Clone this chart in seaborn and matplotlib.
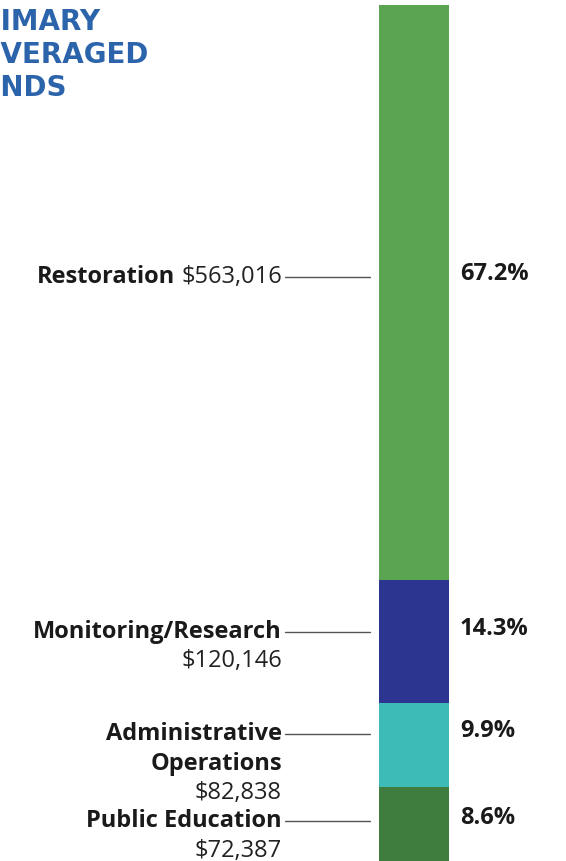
import matplotlib
matplotlib.use("Agg")
import matplotlib.pyplot as plt
import seaborn as sns
import pandas as pd

# ---------------- data ----------------
categories = ["Restoration", "Monitoring/Research", "Administrative\nOperations", "Public Education"]
amounts = ["$563,016", "$120,146", "$82,838", "$72,387"]
percents = [67.2, 14.3, 9.9, 8.6]
colors = ["#5BA552", "#2C3690", "#3DBBB7", "#3E7D3E"]
title_lines = ["PRIMARY", "LEVERAGED", "FUNDS"]
title_hidden = ["PR", "LE", "FU"]

# ---------------- layout ----------------
W, H, DPI = 566, 861, 100
BAR_CX, BAR_W = 414, 70          # bar centre / width in px
TOP_PX = 5                        # top of bar in px
LABEL_RIGHT = 282
LINE_X0, LINE_X1 = 285, 370
PCT_X = 460
LINE_SPACING_PX = 29.5
label_y_px = [277, 632, 734, 821]

sns.set_theme(style="white")
plt.rcParams["font.family"] = ["Open Sans", "DejaVu Sans"]

fig = plt.figure(figsize=(W / DPI, H / DPI), dpi=DPI)
ax = fig.add_axes([0, 0, 1, 1])

df = pd.DataFrame({"cat": categories, "pct": percents, "color": colors})
df["top"] = df["pct"][::-1].cumsum()[::-1]

for _, row in df.iterrows():
    sns.barplot(x=["Total"], y=[row["top"]], color=row["color"], width=1.0,
                saturation=1, edgecolor="none", linewidth=0, ax=ax)

# map px -> data
unit = 1.0 / BAR_W
ax.set_xlim(-BAR_CX * unit, (W - BAR_CX) * unit)
total = df["top"].max()
per_px = total / (H - TOP_PX)
ax.set_ylim(0, H * per_px)
ax.axis("off")


def dx(px):
    return (px - BAR_CX) * unit


def dy(py):
    return (H - py) * per_px


FS = 17
fig.canvas.draw()
renderer = fig.canvas.get_renderer()

for i, (cat, amt, pct) in enumerate(zip(categories, amounts, percents)):
    y = label_y_px[i]
    lines = cat.split("\n")
    if i == 0:
        t = ax.text(dx(LABEL_RIGHT), dy(y), amt, ha="right", va="center",
                    fontsize=FS, color="#222222")
        bb = t.get_window_extent(renderer)
        space = 6
        ax.text(dx(LABEL_RIGHT - bb.width - space), dy(y), cat, ha="right",
                va="center", fontsize=FS, fontweight="bold", color="#1a1a1a")
    else:
        for k, ln in enumerate(lines):
            ax.text(dx(LABEL_RIGHT), dy(y + k * LINE_SPACING_PX), ln, ha="right",
                    va="center", fontsize=FS, fontweight="bold", color="#1a1a1a")
        ax.text(dx(LABEL_RIGHT), dy(y + len(lines) * LINE_SPACING_PX), amt,
                ha="right", va="center", fontsize=FS, color="#222222")
    ax.plot([dx(LINE_X0), dx(LINE_X1)], [dy(y), dy(y)], color="#555555",
            lw=1.0, clip_on=False)
    ax.text(dx(PCT_X), dy(y - 3), f"{pct:.1f}%", ha="left", va="center",
            fontsize=FS, fontweight="bold", color="#1a1a1a")

# title (partially cut off at left edge, as in the reference)
title_baselines = [30, 63, 96]
TFS = 20
for line, hidden, base in zip(title_lines, title_hidden, title_baselines):
    probe = fig.text(0, 0, hidden, fontsize=TFS, fontweight="bold",
                     family=["DejaVu Sans"])
    w = probe.get_window_extent(renderer).width
    probe.remove()
    fig.text((1 - w) / W, 1 - base / H, line, ha="left", va="baseline",
             fontsize=TFS, fontweight="bold", family=["DejaVu Sans"],
             color="#2B64AA")

fig.savefig("out.png", dpi=DPI, facecolor="white")
